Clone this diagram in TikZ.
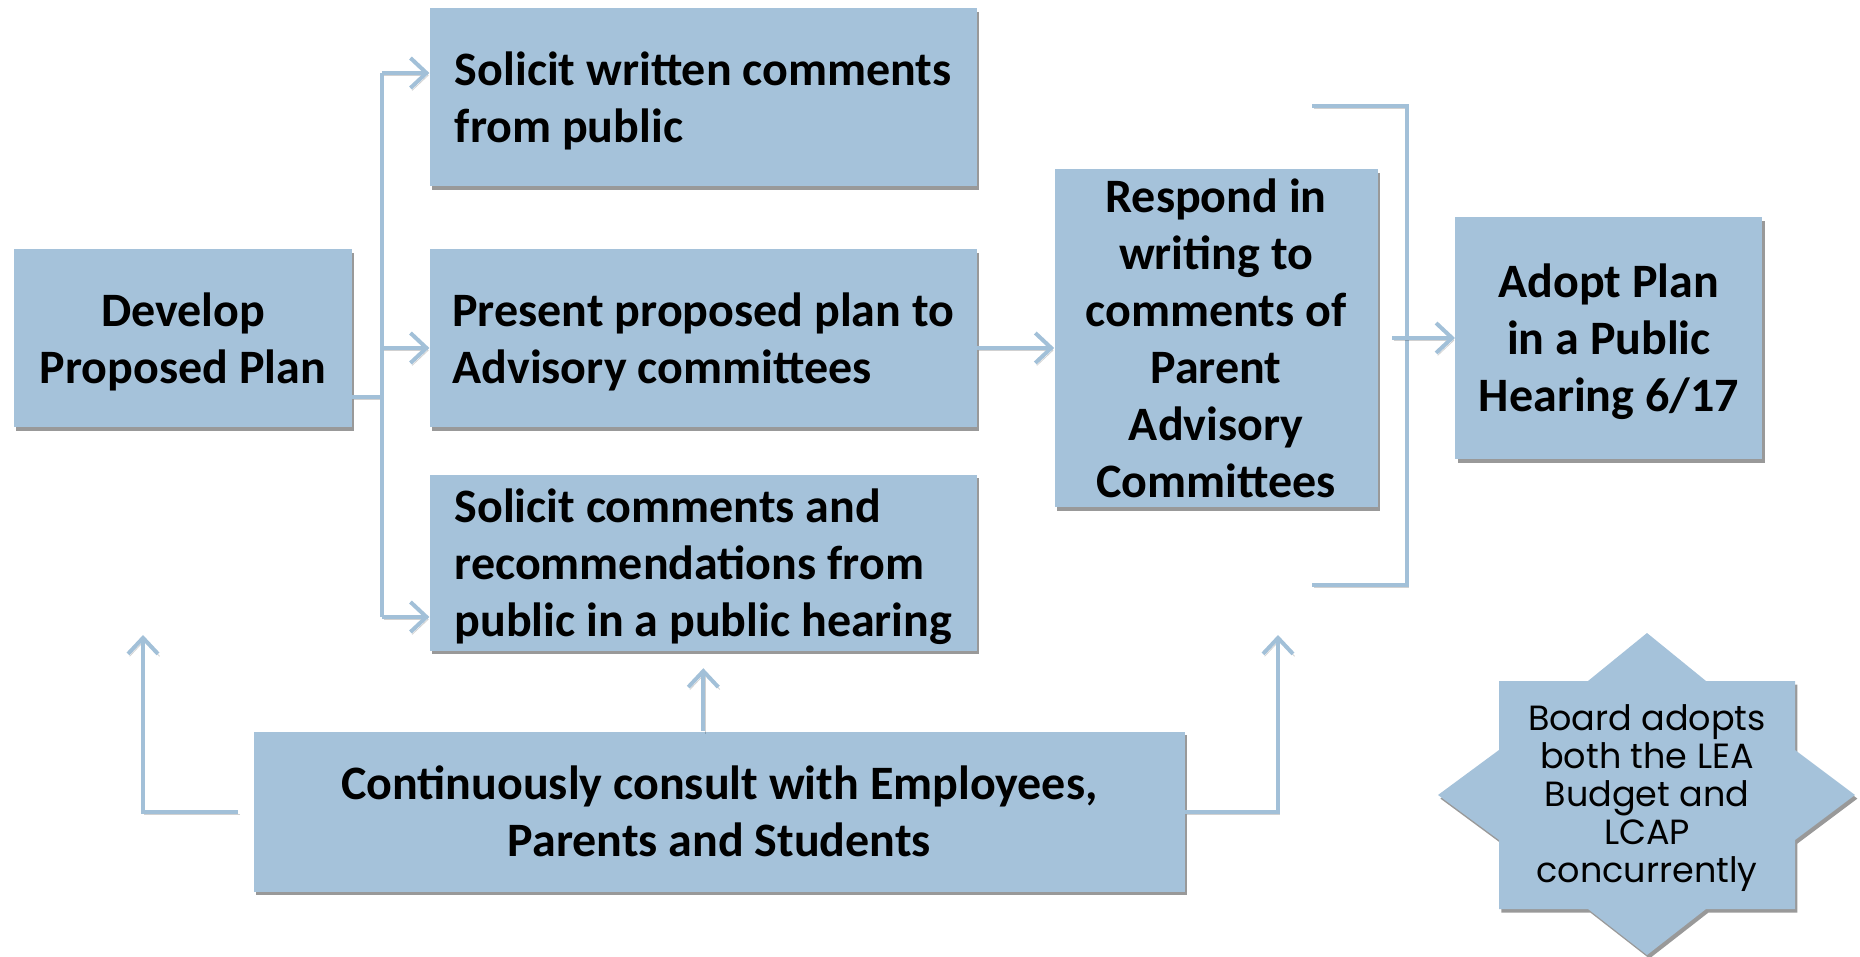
\documentclass[tikz,border=0pt]{standalone}
\usepackage{fontspec}
\setmainfont{Carlito}
\newfontfamily\notefont{Poppins}
\usetikzlibrary{arrows.meta,positioning,calc,shadows}
\definecolor{planB}{RGB}{165,194,218}
\definecolor{lineB}{RGB}{162,192,216}
\tikzset{
  stage/.style={rectangle, fill=#1, align=center, inner sep=0pt,
                font=\fontsize{24}{28.5}\selectfont\bfseries,
                drop shadow={shadow xshift=1.2pt, shadow yshift=-1.8pt, opacity=0.4, fill=black}},
  lstage/.style={stage=#1, align=left, minimum width=273.5pt},
  lowered/.style={text depth=-6pt},
  link/.style={line width=2pt, draw=lineB,
               preaction={draw=black, opacity=0.18, transform canvas={xshift=0.8pt, yshift=-1.2pt}}},
  arr/.style={link, -{Straight Barb[length=8pt, width=15pt, line width=2pt]}},
}

\begin{document}
\begin{tikzpicture}[x=0.5pt, y=-0.5pt, node distance=38.5pt]
    \useasboundingbox (0,0) rectangle (1860,957);
    % main row
    \node[stage=planB, lowered, minimum width=169pt, minimum height=89pt] (dev) at (183,338)
      {Develop\\Proposed Plan};
    \node[lstage=planB, lowered, minimum height=89pt, right=of dev] (present)
      {Present proposed plan to\\Advisory committees};
    \node[lstage=planB, lowered, minimum height=89pt, above=31pt of present] (written)
      {Solicit written comments\\from public};
    \node[lstage=planB, lowered, minimum height=88pt, below=23.5pt of present] (hearing)
      {Solicit comments and\\recommendations from\\public in a public hearing};
    \node[stage=planB, minimum width=161.5pt, minimum height=169pt, right=of present] (respond)
      {Respond in\\writing to\\comments of\\Parent\\Advisory\\Committees};
    \node[stage=planB, lowered, minimum width=153.5pt, minimum height=121pt, right=of respond] (adopt)
      {Adopt Plan\\in a Public\\Hearing 6/17};
    \node[stage=planB, minimum width=465.5pt, minimum height=80pt, below=40pt of hearing, xshift=8pt] (consult)
      {Continuously consult with Employees,\\Parents and Students};

    % fork out of the first box
    \coordinate (forktop) at (382,73);
    \coordinate (forkbot) at (382,617);
    \draw[link] ([shift={(0,59)}]dev.east) -- ([shift={(0,59)}]dev.east -| forktop);
    \draw[link] (forktop) -- (forkbot);
    \draw[arr] (forktop) -- (forktop -| written.west);
    \draw[arr] ([shift={(0,10)}]present.west -| forktop) -- ([shift={(0,10)}]present.west);
    \draw[arr] (forkbot) -- (forkbot -| hearing.west);
    \draw[arr] ([shift={(0,10)}]present.east) -- ([shift={(0,10)}]present.east -| respond.west);

    % bracket into the last box
    \coordinate (brtop) at (1312,106);
    \coordinate (brbot) at (1312,585);
    \coordinate (brout) at (1392,338);
    \draw[link] (brtop) -- ++(95,0) -- ($(brbot)+(95,0)$) -- (brbot);
    \draw[arr] (brout) -- (brout -| adopt.west);

    % consultation feeds back up
    \coordinate (upleft) at (143,635);
    \coordinate (upright) at (1278,635);
    \draw[arr] ([shift={(-15,0)}]consult.west) -| (upleft);
    \draw[arr] (consult.east) -| (upright);
    \draw[arr] (consult.north -| hearing.south) -- ([shift={(0,17)}]hearing.south);

    % eight point badge
    \coordinate (starc) at (1647,795);
    \begin{scope}[shift={(starc)}]
      \fill[planB, drop shadow={shadow xshift=1.2pt, shadow yshift=-1.8pt, opacity=0.4, fill=black}]
        (-148,-114) -- (-59,-114) -- (0,-162) -- (59,-114) -- (148,-114) -- (148,-45)
        -- (208,0) -- (148,45) -- (148,114) -- (59,114) -- (0,160) -- (-59,114)
        -- (-148,114) -- (-148,45) -- (-209,0) -- (-148,-45) -- cycle;
    \end{scope}
    \node[align=center, font=\notefont\fontsize{17.5}{19}\selectfont] (board) at ([shift={(0,3)}]starc)
      {Board adopts\\both the LEA\\Budget and\\LCAP\\concurrently};
  \end{tikzpicture}
\end{document}
